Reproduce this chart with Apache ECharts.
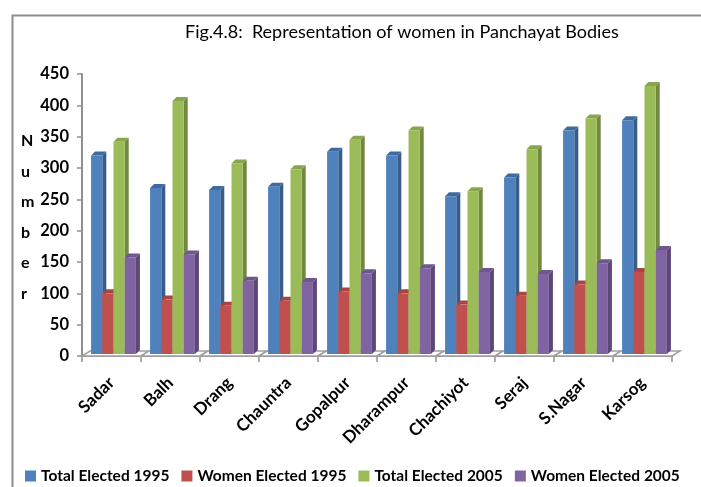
<!DOCTYPE html>
<html>
<head>
<meta charset="utf-8">
<script src="https://cdn.jsdelivr.net/npm/echarts@6/dist/echarts.min.js"></script>
<style>html,body{margin:0;padding:0;background:#fff}#c{width:701px;height:487px}</style>
</head>
<body>
<div id="c"></div>
<script>
const categories = ["Sadar","Balh","Drang","Chauntra","Gopalpur","Dharampur","Chachiyot","Seraj","S.Nagar","Karsog"];
const seriesNames = ["Total Elected 1995","Women Elected 1995","Total Elected 2005","Women Elected 2005"];
const totalElected1995 = [320, 268, 265, 270, 326, 320, 255, 285, 360, 376];
const womenElected1995 = [100, 90, 80, 88, 103, 100, 82, 96, 114, 134];
const totalElected2005 = [342, 407, 307, 298, 345, 360, 263, 330, 379, 431];
const womenElected2005 = [157, 162, 120, 118, 132, 140, 134, 131, 148, 169];
const yTicks = {min: 0, max: 450, interval: 50};

const seriesValues = [totalElected1995, womenElected1995, totalElected2005, womenElected2005];
const colors = ["#4F81BD", "#C0504D", "#9BBB59", "#8064A2"];
const sideColors = ["#385D8A", "#8C3836", "#71893F", "#5C4776"];
const topColors = ["#3F6A9E", "#A84542", "#87A64B", "#6E568E"];
const font = "Lato, 'Liberation Sans', sans-serif";

function makeBar(idx) {
  return function (params, api) {
    const ci = api.value(0), v = api.value(1);
    const c = api.coord([ci, v]);
    const b = api.coord([ci, 0]);
    const bw = api.size([1, 0])[0];
    const gw = bw * 0.76;
    const w = gw / 4;
    const d = 4, dy = 4;
    const x = c[0] - gw / 2 + idx * w + 2;
    const top = c[1], bottom = b[1] - 2;
    return {
      type: 'group',
      children: [
        {type: 'polygon', shape: {points: [[x + w, top], [x + w + d, top - dy], [x + w + d, bottom - dy], [x + w, bottom]]}, style: {fill: sideColors[idx]}},
        {type: 'polygon', shape: {points: [[x, top], [x + d, top - dy], [x + w + d, top - dy], [x + w, top]]}, style: {fill: topColors[idx]}},
        {type: 'rect', shape: {x: x, y: top, width: w, height: bottom - top}, style: {fill: colors[idx]}}
      ]
    };
  };
}

function floorItem(params, api) {
  const ci = api.value(0);
  const s = api.coord([ci, 0]);
  const bw = api.size([1, 0])[0];
  const x0 = s[0] - bw / 2, x1 = s[0] + bw / 2, y = s[1];
  return {
    type: 'polygon',
    shape: {points: [[x0, y], [x1, y], [x1 + 8, y - 5], [x0 + 8, y - 5]]},
    style: {fill: '#ffffff', stroke: '#a0a0a0', lineWidth: 1.5}
  };
}

const series = [{
  type: 'custom', name: 'floor', silent: true, z: 1,
  renderItem: floorItem,
  data: categories.map((c, i) => [i, 0])
}];
seriesValues.forEach((vals, idx) => {
  series.push({
    type: 'custom', name: seriesNames[idx], z: 2,
    itemStyle: {color: colors[idx]},
    renderItem: makeBar(idx),
    encode: {x: 0, y: 1},
    data: vals.map((v, i) => [i, v])
  });
});

const chart = echarts.init(document.getElementById('c'), null, {renderer: 'canvas'});
chart.setOption({
  animation: false,
  color: colors,
  title: {
    text: 'Fig.4.8:  Representation of women in Panchayat Bodies',
    left: 180, top: 18,
    textStyle: {fontFamily: font, fontSize: 18, fontWeight: 'normal', color: '#000'}
  },
  graphic: [
    {type: 'rect', left: 10, top: 13, shape: {width: 720, height: 500}, style: {fill: 'none', stroke: '#8c8c8c', lineWidth: 2}},
    {type: 'text', left: 21, top: 126, style: {text: 'N\nu\nm\nb\ne\nr', font: 'bold 16px ' + font, lineHeight: 30.5, fill: '#000', align: 'center'}}
  ],
  legend: {
    data: seriesNames,
    left: 20, top: 463, width: 680,
    icon: 'rect', itemWidth: 11, itemHeight: 11, itemGap: 12,
    textStyle: {fontFamily: font, fontSize: 15.5, fontWeight: 'bold', color: '#000'}
  },
  grid: {left: 82, right: 29, top: 74, bottom: 131, containLabel: false},
  xAxis: {
    type: 'category', data: categories,
    axisLine: {lineStyle: {color: '#909090', width: 2}},
    axisTick: {show: true, length: 6, lineStyle: {color: '#909090', width: 1.5}},
    axisLabel: {rotate: 45, margin: 24, fontFamily: font, fontSize: 17, fontWeight: 'bold', color: '#000'},
    splitLine: {show: false}
  },
  yAxis: {
    type: 'value', min: yTicks.min, max: yTicks.max, interval: yTicks.interval,
    axisLine: {show: true, lineStyle: {color: '#909090', width: 2}},
    axisTick: {show: true, length: 5, lineStyle: {color: '#909090', width: 1.5}},
    axisLabel: {margin: 13, fontFamily: font, fontSize: 16.5, fontWeight: 'bold', color: '#000'},
    splitLine: {show: false}
  },
  series: series
});
</script>
</body>
</html>
